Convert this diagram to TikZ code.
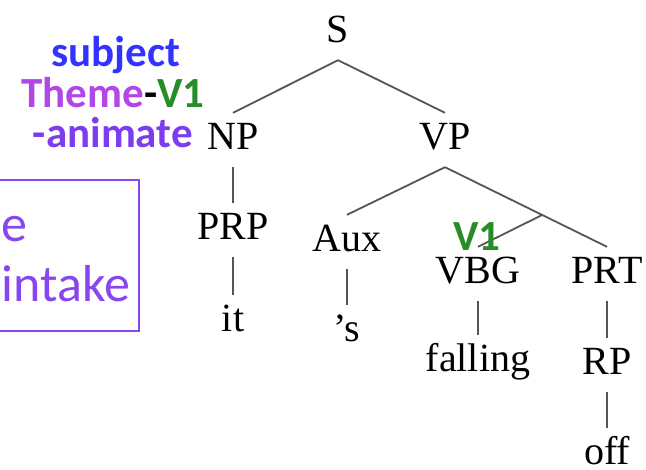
\documentclass[tikz,border=0pt]{standalone}
\usepackage{fontspec}
\setmainfont{Liberation Serif}
\newfontfamily\calibri{Carlito}
\usetikzlibrary{calc}
\definecolor{subjblue}{RGB}{51,51,255}
\definecolor{themepink}{RGB}{178,70,230}
\definecolor{vgreen}{RGB}{40,140,40}
\definecolor{animpurple}{RGB}{125,60,240}
\definecolor{boxpurple}{RGB}{135,70,240}
\definecolor{linegray}{RGB}{85,85,85}

\begin{document}
\begin{tikzpicture}[
  x=1pt, y=-1pt,
  cat/.style={
    anchor=base,
    inner sep=0pt,
    text height=37pt,
    text depth=17pt,
    font=\fontsize{40}{44}\selectfont
  },
  role/.style={
    anchor=base,
    inner sep=0pt,
    font=\calibri\bfseries\fontsize{43}{43}\selectfont
  },
  intakebox/.style={
    draw=boxpurple,
    line width=2pt,
    text=boxpurple,
    align=left,
    anchor=north east,
    minimum width=146pt,
    minimum height=151pt,
    inner sep=0pt,
    font=\calibri\fontsize{52}{60}\selectfont
  },
  branch/.style={draw=linegray, line width=1.8pt}
]
  \useasboundingbox (0,0) rectangle (646,470);
  \clip (0,0) rectangle (646,470);

  \node[intakebox] (intake) at (140,179) {\vphantom{I}e\\intake};

  \node[cat] (S) at (338,43) {S};
  \node[cat] (NP) at (233,150) {NP};
  \node[cat] (VP) at (445,150) {VP};
  \node[cat] (PRP) at (233,240) {PRP};
  \node[cat] (it) at (233,332) {it};
  \node[cat] (Aux) at (347,252) {Aux};
  \node[cat] (VBG) at (478,284) {VBG};
  \node[cat] (PRT) at (607,284) {PRT};
  \node[cat] (aps) at (347,342) {’s};
  \node[cat] (falling) at (478,372) {falling};
  \node[cat] (RP) at (607,375) {RP};
  \node[cat] (off) at (607,465) {off};

  \draw[branch] (S.south) -- (NP.north);
  \draw[branch] (S.south) -- (VP.north);
  \draw[branch] (NP.south) -- (PRP.north);
  \draw[branch] (PRP.south) -- (it.north);
  \draw[branch] (VP.south) -- (Aux.north);
  \draw[branch] (VP.south) -- (PRT.north);
  \coordinate (VPmid) at ($(VP.south)!0.6!(PRT.north)$);
  \draw[branch] (VPmid) -- (VBG.north);
  \draw[branch] (Aux.south) -- (aps.north);
  \draw[branch] (VBG.south) -- (falling.north);
  \draw[branch] (PRT.south) -- (RP.north);
  \draw[branch] (RP.south) -- (off.north);

  \node[role, text=subjblue] (subj) at (116,67) {subject};
  \node[role] (theme) at (113,108) {\textcolor{themepink}{Theme}-\textcolor{vgreen}{V1}};
  \node[role, text=animpurple, anchor=base east] (anim) at (193,148) {-animate};
  \node[role, text=vgreen] (vone) at (477,251) {V1};
\end{tikzpicture}
\end{document}
